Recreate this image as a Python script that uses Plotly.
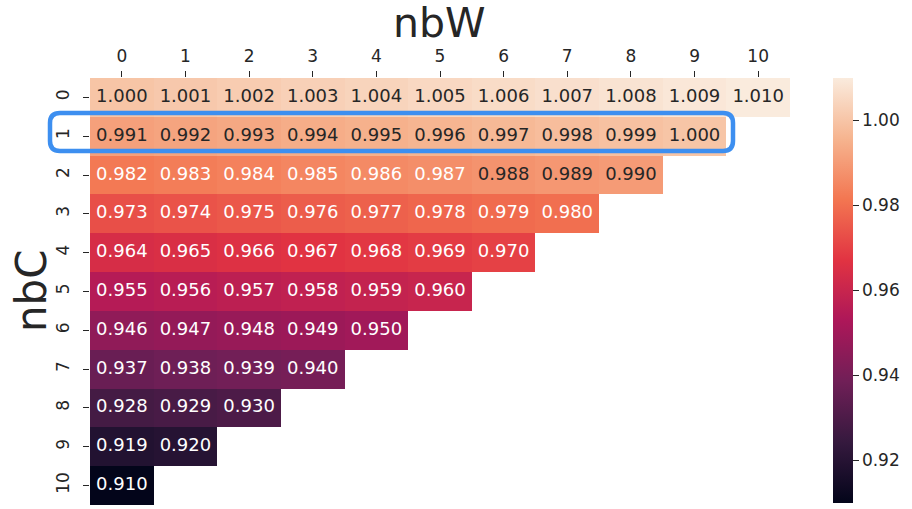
import plotly.graph_objects as go

# ---- data ----
nbW = list(range(11))
nbC = list(range(11))
values = [
    [1.000, 1.001, 1.002, 1.003, 1.004, 1.005, 1.006, 1.007, 1.008, 1.009, 1.010],
    [0.991, 0.992, 0.993, 0.994, 0.995, 0.996, 0.997, 0.998, 0.999, 1.000],
    [0.982, 0.983, 0.984, 0.985, 0.986, 0.987, 0.988, 0.989, 0.990],
    [0.973, 0.974, 0.975, 0.976, 0.977, 0.978, 0.979, 0.980],
    [0.964, 0.965, 0.966, 0.967, 0.968, 0.969, 0.970],
    [0.955, 0.956, 0.957, 0.958, 0.959, 0.960],
    [0.946, 0.947, 0.948, 0.949, 0.950],
    [0.937, 0.938, 0.939, 0.940],
    [0.928, 0.929, 0.930],
    [0.919, 0.920],
    [0.910],
]
cbar_ticks = [0.92, 0.94, 0.96, 0.98, 1.00]
zmin, zmax = 0.91, 1.01

# rocket colormap approximation
rocket = [
    (0.0, "#03051A"), (0.143, "#35193E"), (0.286, "#701F57"), (0.429, "#AD1759"),
    (0.571, "#E13342"), (0.714, "#F37651"), (0.857, "#F6B48F"), (1.0, "#FAEBDD"),
]

def hex2rgb(h):
    h = h.lstrip("#")
    return [int(h[i:i + 2], 16) / 255 for i in (0, 2, 4)]

def cmap(t):
    t = min(max(t, 0), 1)
    for (a, ca), (b, cb) in zip(rocket[:-1], rocket[1:]):
        if a <= t <= b:
            f = (t - a) / (b - a)
            A, B = hex2rgb(ca), hex2rgb(cb)
            return [A[i] + f * (B[i] - A[i]) for i in range(3)]
    return hex2rgb(rocket[-1][1])

def lum(rgb):
    out = []
    for c in rgb:
        out.append(c / 12.92 if c <= 0.03928 else ((c + 0.055) / 1.055) ** 2.4)
    return 0.2126 * out[0] + 0.7152 * out[1] + 0.0722 * out[2]

z = [[row[j] if j < len(row) else None for j in range(len(nbW))] for row in values]

tx, ty, tt, tc = [], [], [], []
for i, row in enumerate(values):
    for j, v in enumerate(row):
        tx.append(nbW[j]); ty.append(nbC[i]); tt.append(f"{v:.3f}")
        l = lum(cmap((v - zmin) / (zmax - zmin)))
        tc.append("#262626" if l > 0.408 else "white")

W, H = 912, 509
L, R, T, B = 90, 122, 78, 4

fig = go.Figure()
fig.add_trace(go.Heatmap(
    x=nbW, y=nbC, z=z, zmin=zmin, zmax=zmax,
    colorscale=[[p, c] for p, c in rocket],
    hoverongaps=False, xgap=0, ygap=0,
    colorbar=dict(
        x=(833 - L) / (W - L - R), xanchor="left", xpad=0, ypad=0,
        y=1, yanchor="top", len=425, lenmode="pixels", thickness=20,
        outlinewidth=0, ticks="outside", ticklen=6, tickwidth=1.2, tickcolor="#262626",
        tickvals=cbar_ticks, ticktext=[f"{v:.2f}" for v in cbar_ticks],
        tickfont=dict(family="DejaVu Sans", size=17, color="#262626"),
    ),
))
fig.add_trace(go.Scatter(
    x=tx, y=ty, text=tt, mode="text",
    textfont=dict(family="DejaVu Sans", size=18, color=tc),
    hoverinfo="skip", showlegend=False,
))

def px2paper(px, py):
    return (px - L) / (W - L - R), (H - B - py) / (H - T - B)

def rrect(x0, y0, x1, y1, r):
    def P(a, b):
        X, Y = px2paper(a, b)
        return f"{X:.5f},{Y:.5f}"
    return (f"M {P(x0 + r, y0)} L {P(x1 - r, y0)} Q {P(x1, y0)} {P(x1, y0 + r)} "
            f"L {P(x1, y1 - r)} Q {P(x1, y1)} {P(x1 - r, y1)} L {P(x0 + r, y1)} "
            f"Q {P(x0, y1)} {P(x0, y1 - r)} L {P(x0, y0 + r)} Q {P(x0, y0)} {P(x0 + r, y0)} Z")

fig.add_shape(type="path", xref="paper", yref="paper",
              path=rrect(50, 113, 733, 151, 10),
              line=dict(color="#3D8FF0", width=4.5), fillcolor="rgba(0,0,0,0)")

fig.add_annotation(text="nbW", xref="paper", yref="paper",
                   x=px2paper(439, 0)[0], y=px2paper(0, 23)[1], showarrow=False,
                   font=dict(family="DejaVu Sans", size=41, color="#262626"),
                   xanchor="center", yanchor="middle")
fig.add_annotation(text="nbC", xref="paper", yref="paper",
                   x=px2paper(31, 0)[0], y=px2paper(0, 291)[1], showarrow=False,
                   textangle=-90,
                   font=dict(family="DejaVu Sans", size=42, color="#262626"),
                   xanchor="center", yanchor="middle")

fig.update_xaxes(side="top", range=[-0.5, 10.5], tickvals=nbW, ticktext=[str(v) for v in nbW],
                 ticks="outside", ticklen=6, tickwidth=1.2, tickcolor="#262626",
                 ticklabelstandoff=2,
                 showgrid=False, zeroline=False, showline=False,
                 tickfont=dict(family="DejaVu Sans", size=17, color="#262626"))
fig.update_yaxes(range=[10.5, -0.5], tickvals=nbC, ticktext=[str(v) for v in nbC],
                 ticks="outside", ticklen=6, tickwidth=1.2, tickcolor="#262626", tickangle=-90,
                 ticklabelstandoff=7,
                 showgrid=False, zeroline=False, showline=False,
                 tickfont=dict(family="DejaVu Sans", size=17, color="#262626"))
fig.update_layout(width=W, height=H,
                  margin=dict(l=L, r=R, t=T, b=B, autoexpand=False),
                  plot_bgcolor="white", paper_bgcolor="white", showlegend=False)

fig.write_html("out.html", config={"displayModeBar": False},
               post_script="document.body.style.margin='0px';document.body.style.overflow='hidden';")
